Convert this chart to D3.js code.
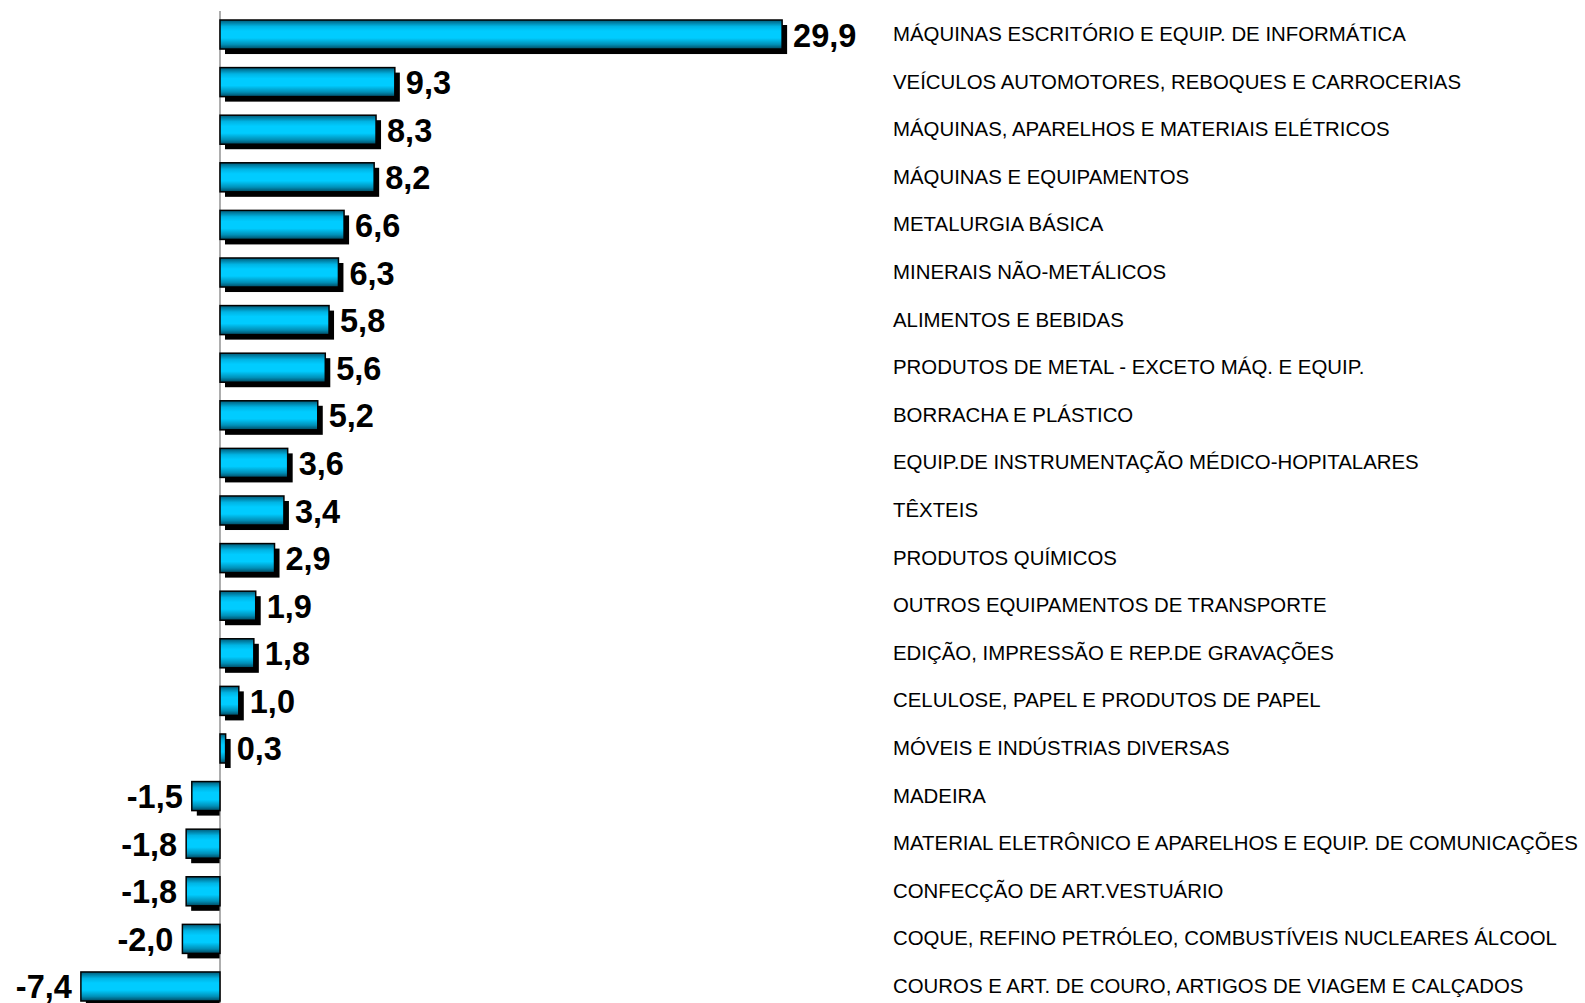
<!DOCTYPE html>
<html>
<head>
<meta charset="utf-8">
<script src="https://d3js.org/d3.v7.min.js"></script>
<style>
  body { margin: 0; background: #fff; }
  svg { display: block; }
</style>
</head>
<body>
<svg width="1585" height="1003"></svg>
<script>
// categories (top to bottom)
var sectors = [
    "MÁQUINAS ESCRITÓRIO E EQUIP. DE INFORMÁTICA",
    "VEÍCULOS AUTOMOTORES, REBOQUES E CARROCERIAS",
    "MÁQUINAS, APARELHOS E MATERIAIS ELÉTRICOS",
    "MÁQUINAS E EQUIPAMENTOS",
    "METALURGIA BÁSICA",
    "MINERAIS NÃO-METÁLICOS",
    "ALIMENTOS E BEBIDAS",
    "PRODUTOS DE METAL - EXCETO MÁQ. E EQUIP.",
    "BORRACHA E PLÁSTICO",
    "EQUIP.DE INSTRUMENTAÇÃO MÉDICO-HOPITALARES",
    "TÊXTEIS",
    "PRODUTOS QUÍMICOS",
    "OUTROS EQUIPAMENTOS DE TRANSPORTE",
    "EDIÇÃO, IMPRESSÃO E REP.DE GRAVAÇÕES",
    "CELULOSE, PAPEL E PRODUTOS DE PAPEL",
    "MÓVEIS E INDÚSTRIAS DIVERSAS",
    "MADEIRA",
    "MATERIAL ELETRÔNICO E APARELHOS E EQUIP. DE COMUNICAÇÕES",
    "CONFECÇÃO DE ART.VESTUÁRIO",
    "COQUE, REFINO PETRÓLEO, COMBUSTÍVEIS NUCLEARES ÁLCOOL",
    "COUROS E ART. DE COURO, ARTIGOS DE VIAGEM E CALÇADOS"
];

// growth values (%)
var growth = [29.9, 9.3, 8.3, 8.2, 6.6, 6.3, 5.8, 5.6, 5.2, 3.6, 3.4, 2.9, 1.9, 1.8, 1.0, 0.3, -1.5, -1.8, -1.8, -2.0, -7.4];

var data = sectors.map(function(s, i) { return {name: s, value: growth[i]}; });

var svg = d3.select("svg");

// scales
var xs = d3.scaleLinear().domain([-10, 30]).range([32, 784]);
var ys = d3.scaleBand().domain(sectors).range([20, 1001]).paddingInner(0.39).paddingOuter(0);

// plain hyphen and decimal comma, like the original
var fmt = function(v) { return v.toFixed(1).replace(".", ","); };

// bar gradient
var grad = svg.append("defs").append("linearGradient")
    .attr("id", "barGrad")
    .attr("x1", 0).attr("y1", 0).attr("x2", 0).attr("y2", 1);
grad.append("stop").attr("offset", "0%").attr("stop-color", "#005a78");
grad.append("stop").attr("offset", "22%").attr("stop-color", "#00b4e4");
grad.append("stop").attr("offset", "38%").attr("stop-color", "#00ccff");
grad.append("stop").attr("offset", "62%").attr("stop-color", "#00ccff");
grad.append("stop").attr("offset", "84%").attr("stop-color", "#0090b8");
grad.append("stop").attr("offset", "100%").attr("stop-color", "#004860");

var off = 5;

// shadows
svg.append("g").selectAll("rect")
    .data(data)
    .enter()
    .append("rect")
    .attr("x", function(d) { return xs(Math.min(d.value, 0)) + off; })
    .attr("y", function(d) { return ys(d.name) + off; })
    .attr("width", function(d) {
        var w = Math.abs(xs(d.value) - xs(0));
        return d.value < 0 ? Math.max(w - off, 0) : w;
    })
    .attr("height", ys.bandwidth())
    .attr("fill", "#000");

// zero axis line
svg.append("line")
    .attr("x1", xs(0)).attr("x2", xs(0))
    .attr("y1", 11).attr("y2", 1003)
    .attr("stroke", "#777")
    .attr("stroke-width", 1.2);

// bars
svg.append("g").selectAll("rect")
    .data(data)
    .enter()
    .append("rect")
    .attr("x", function(d) { return xs(Math.min(d.value, 0)); })
    .attr("y", function(d) { return ys(d.name); })
    .attr("width", function(d) { return Math.abs(xs(d.value) - xs(0)); })
    .attr("height", ys.bandwidth())
    .attr("fill", "url(#barGrad)")
    .attr("stroke", "#000")
    .attr("stroke-width", 1.5);

// value labels
svg.append("g").selectAll("text")
    .data(data)
    .enter()
    .append("text")
    .attr("x", function(d) { return d.value >= 0 ? xs(d.value) + 11 : xs(d.value) - 9; })
    .attr("y", function(d) { return ys(d.name) + ys.bandwidth() / 2 + 12; })
    .attr("text-anchor", function(d) { return d.value >= 0 ? "start" : "end"; })
    .style("font-family", "'Liberation Sans', Arial, sans-serif")
    .style("font-weight", "bold")
    .style("font-size", "32.5px")
    .style("fill", "#000")
    .text(function(d) { return fmt(d.value); });

// category labels
svg.append("g").selectAll("text")
    .data(data)
    .enter()
    .append("text")
    .attr("x", 893)
    .attr("y", function(d) { return ys(d.name) + ys.bandwidth() / 2 + 6.5; })
    .style("font-family", "'Liberation Sans', Arial, sans-serif")
    .style("font-size", "20.4px")
    .style("fill", "#000")
    .text(function(d) { return d.name; });
</script>
</body>
</html>
